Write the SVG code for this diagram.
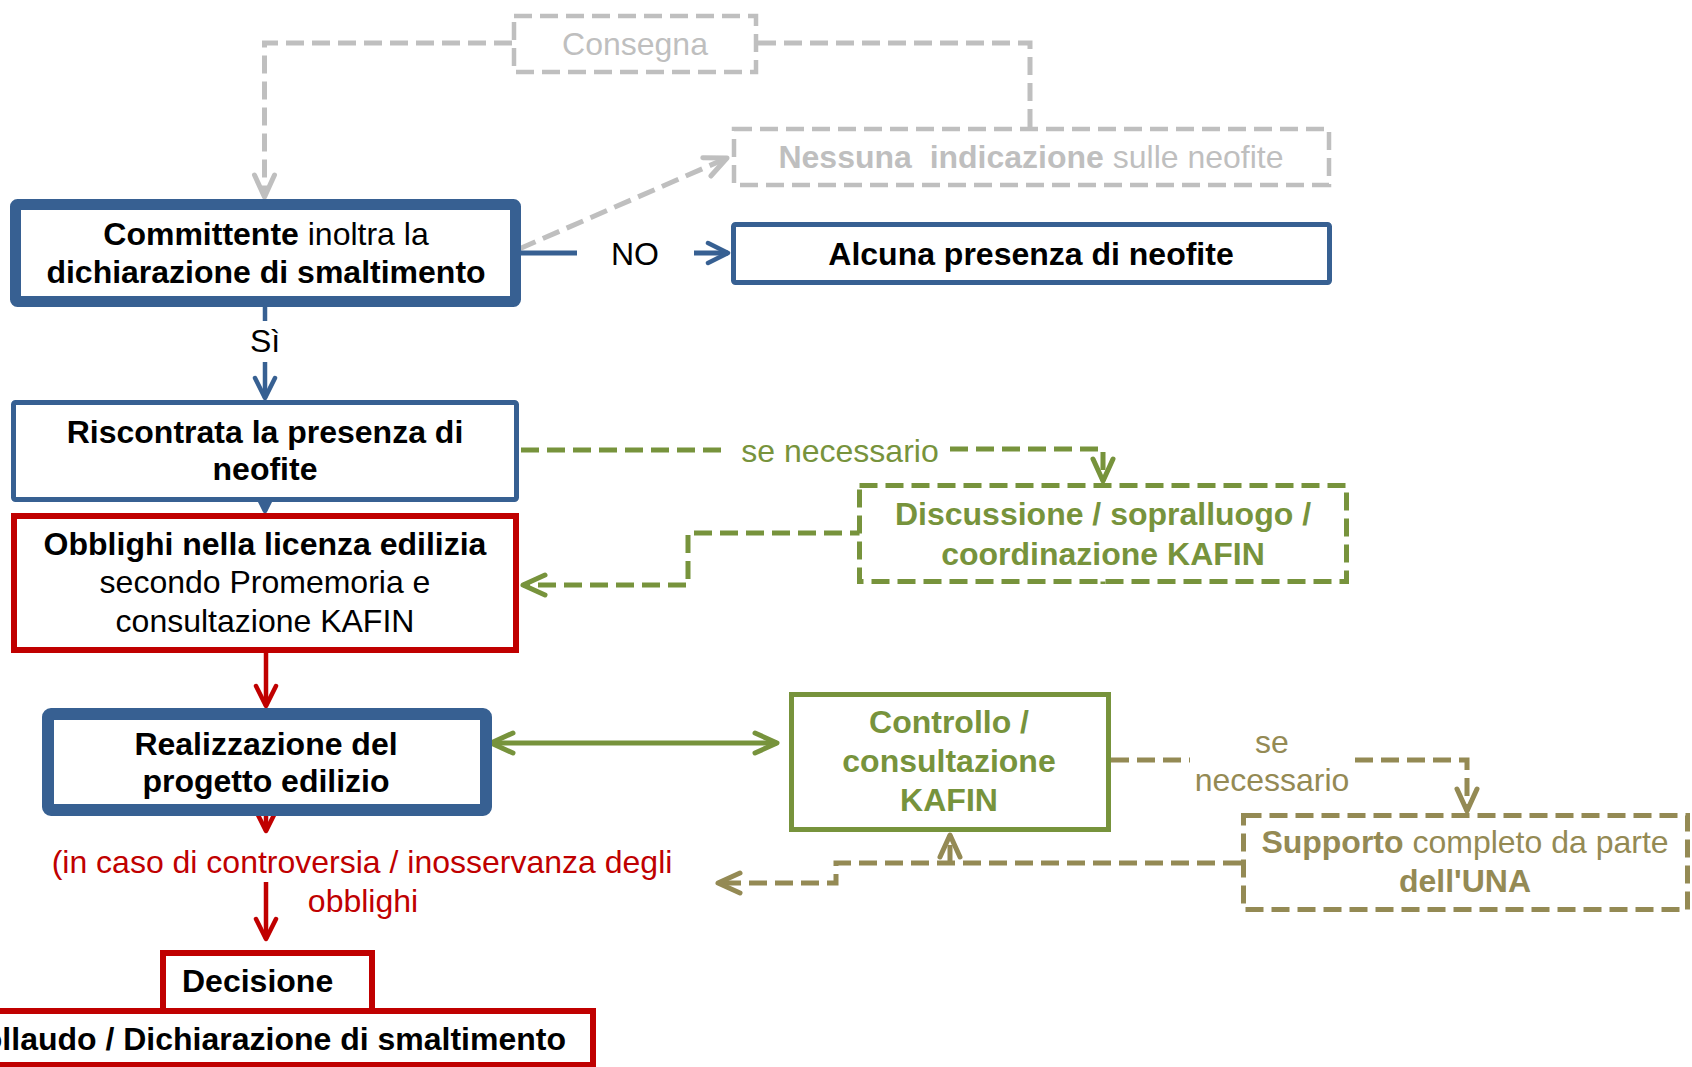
<svg xmlns="http://www.w3.org/2000/svg" width="1692" height="1067" viewBox="0 0 1692 1067">
<style>
text{font-family:"Liberation Sans",Arial,sans-serif;font-size:32px;text-anchor:middle}
.b{font-weight:bold}
.box{fill:#fff}
.blue{stroke:#376092}
.red{stroke:#C00000}
.grn{stroke:#77933C}
.olv{stroke:#948A54}
.gry{stroke:#BFBFBF}
.dash{stroke-dasharray:18 8}
.conn path{fill:none}
</style>
<defs>
<marker id="aBlue" viewBox="-24 -14 28 28" refX="0" refY="0" markerWidth="28" markerHeight="28" markerUnits="userSpaceOnUse" orient="auto-start-reverse"><path d="M-20,-10 L0,0 L-20,10" fill="none" stroke="#376092" stroke-width="4.5" stroke-linecap="round" stroke-linejoin="round"/></marker>
<marker id="aRed" viewBox="-24 -14 28 28" refX="0" refY="0" markerWidth="28" markerHeight="28" markerUnits="userSpaceOnUse" orient="auto-start-reverse"><path d="M-20,-10 L0,0 L-20,10" fill="none" stroke="#C00000" stroke-width="4.5" stroke-linecap="round" stroke-linejoin="round"/></marker>
<marker id="aGrn" viewBox="-28 -14 32 28" refX="0" refY="0" markerWidth="32" markerHeight="28" markerUnits="userSpaceOnUse" orient="auto-start-reverse"><path d="M-22,-10 L0,0 L-22,10" fill="none" stroke="#77933C" stroke-width="5" stroke-linecap="round" stroke-linejoin="round"/></marker>
<marker id="aOlv" viewBox="-28 -14 32 28" refX="0" refY="0" markerWidth="32" markerHeight="28" markerUnits="userSpaceOnUse" orient="auto-start-reverse"><path d="M-22,-10 L0,0 L-22,10" fill="none" stroke="#948A54" stroke-width="5" stroke-linecap="round" stroke-linejoin="round"/></marker>
<marker id="aGry" viewBox="-28 -14 32 28" refX="0" refY="0" markerWidth="32" markerHeight="28" markerUnits="userSpaceOnUse" orient="auto-start-reverse"><path d="M-22,-10 L0,0 L-22,10" fill="none" stroke="#BFBFBF" stroke-width="5" stroke-linecap="round" stroke-linejoin="round"/></marker>
</defs>
<rect width="1692" height="1067" fill="#fff"/>

<g id="connectors" class="conn">
<path class="gry dash" stroke-width="5" d="M512,43 H264.5 V197" marker-end="url(#aGry)"/>
<path class="gry dash" stroke-width="5" d="M758,43 H1030 V127"/>
<path class="gry dash" stroke-width="5" d="M519,249 L727,158" marker-end="url(#aGry)"/>
<path class="blue" stroke-width="5" d="M521,253 H577"/>
<path class="blue" stroke-width="5" d="M694,253 H728" marker-end="url(#aBlue)"/>
<path class="blue" stroke-width="4.5" d="M265,307 V321"/>
<path class="blue" stroke-width="4.5" d="M265,362 V398" marker-end="url(#aBlue)"/>
<path class="blue" stroke-width="4.5" d="M265,500 V511" marker-end="url(#aBlue)"/>
<path class="grn dash" stroke-width="5" d="M521,450 H728"/>
<path class="grn dash" stroke-width="5" d="M950,449 H1103 V481" marker-end="url(#aGrn)"/>
<path class="grn dash" stroke-width="5" d="M1103,584 V533 H688 V585 H523" marker-end="url(#aGrn)"/>
<path class="red" stroke-width="4.5" d="M266,653 V706" marker-end="url(#aRed)"/>
<path class="red" stroke-width="4.5" d="M266,812 V831" marker-end="url(#aRed)"/>
<path class="red" stroke-width="4.5" d="M266,882 V939" marker-end="url(#aRed)"/>
<path class="grn" stroke-width="5" d="M491,743 H777" marker-start="url(#aGrn)" marker-end="url(#aGrn)"/>
<path class="olv dash" stroke-width="5" d="M1111,760 H1190"/>
<path class="olv dash" stroke-width="5" d="M1355,760 H1467 V811" marker-end="url(#aOlv)"/>
<path class="olv dash" stroke-width="5" d="M1241,863 H836 V883 H718" marker-end="url(#aOlv)"/>
<path class="olv dash" stroke-width="5" d="M950,863 V835" marker-end="url(#aOlv)"/>
</g>
<g id="connector-labels">
<text x="635" y="265">NO</text>
<text x="265" y="352">Sì</text>
<text x="840" y="462" fill="#77933C">se necessario</text>
<text x="1272" y="753" fill="#948A54">se</text>
<text x="1272" y="791" fill="#948A54">necessario</text>
<text x="362" y="873" fill="#C00000">(in caso di controversia / inosservanza degli</text>
<text x="363" y="912" fill="#C00000">obblighi</text>
</g>

<g id="consegna">
<rect class="box gry dash" x="514" y="16" width="242" height="56" stroke-width="4.5"/>
<text x="635" y="55" fill="#BFBFBF">Consegna</text>
</g>
<g id="nessuna">
<rect class="box gry dash" x="734" y="129" width="595" height="56" stroke-width="4.5"/>
<text x="1031" y="168" fill="#BFBFBF" xml:space="preserve"><tspan class="b">Nessuna  indicazione</tspan> sulle neofite</text>
</g>
<g id="committente">
<rect class="box blue" x="15.5" y="204.5" width="500" height="97" stroke-width="11" rx="2"/>
<text x="266" y="245"><tspan class="b">Committente</tspan> inoltra la</text>
<text x="266" y="283" class="b">dichiarazione di smaltimento</text>
</g>
<g id="alcuna">
<rect class="box blue" x="733.5" y="224.5" width="596" height="58" stroke-width="5" rx="2"/>
<text x="1031" y="265" class="b">Alcuna presenza di neofite</text>
</g>
<g id="riscontrata">
<rect class="box blue" x="13.5" y="402.5" width="503" height="97" stroke-width="5" rx="2"/>
<text x="265" y="443" class="b">Riscontrata la presenza di</text>
<text x="265" y="480" class="b">neofite</text>
</g>
<g id="discussione">
<rect class="box grn dash" x="859.5" y="485.5" width="487" height="96" stroke-width="5"/>
<text x="1103" y="525" class="b" fill="#77933C">Discussione / sopralluogo /</text>
<text x="1103" y="565" class="b" fill="#77933C">coordinazione KAFIN</text>
</g>
<g id="obblighi">
<rect class="box red" x="14" y="516" width="502" height="134" stroke-width="6"/>
<text x="265" y="555" class="b">Obblighi nella licenza edilizia</text>
<text x="265" y="593">secondo Promemoria e</text>
<text x="265" y="632">consultazione KAFIN</text>
</g>
<g id="realizzazione">
<rect class="box blue" x="48" y="714" width="438" height="96" stroke-width="12" rx="3"/>
<text x="266" y="755" class="b">Realizzazione del</text>
<text x="266" y="792" class="b">progetto edilizio</text>
</g>
<g id="controllo">
<rect class="box grn" x="791.5" y="694.5" width="317" height="135" stroke-width="5"/>
<text x="949" y="733" class="b" fill="#77933C">Controllo /</text>
<text x="949" y="772" class="b" fill="#77933C">consultazione</text>
<text x="949" y="811" class="b" fill="#77933C">KAFIN</text>
</g>
<g id="supporto">
<rect class="box olv dash" x="1243.5" y="815.5" width="444" height="94" stroke-width="5"/>
<text x="1465" y="853" fill="#948A54"><tspan class="b">Supporto</tspan> completo da parte</text>
<text x="1465" y="892" class="b" fill="#948A54">dell'UNA</text>
</g>
<g id="decisione">
<rect class="box red" x="163" y="953" width="209" height="58" stroke-width="6"/>
<text x="182" y="992" class="b" style="text-anchor:start">Decisione</text>
</g>
<g id="collaudo">
<rect class="box red" x="-10" y="1011" width="603" height="54" stroke-width="6"/>
<text x="566" y="1050" class="b" style="text-anchor:end">Collaudo / Dichiarazione di smaltimento</text>
</g>
</svg>
